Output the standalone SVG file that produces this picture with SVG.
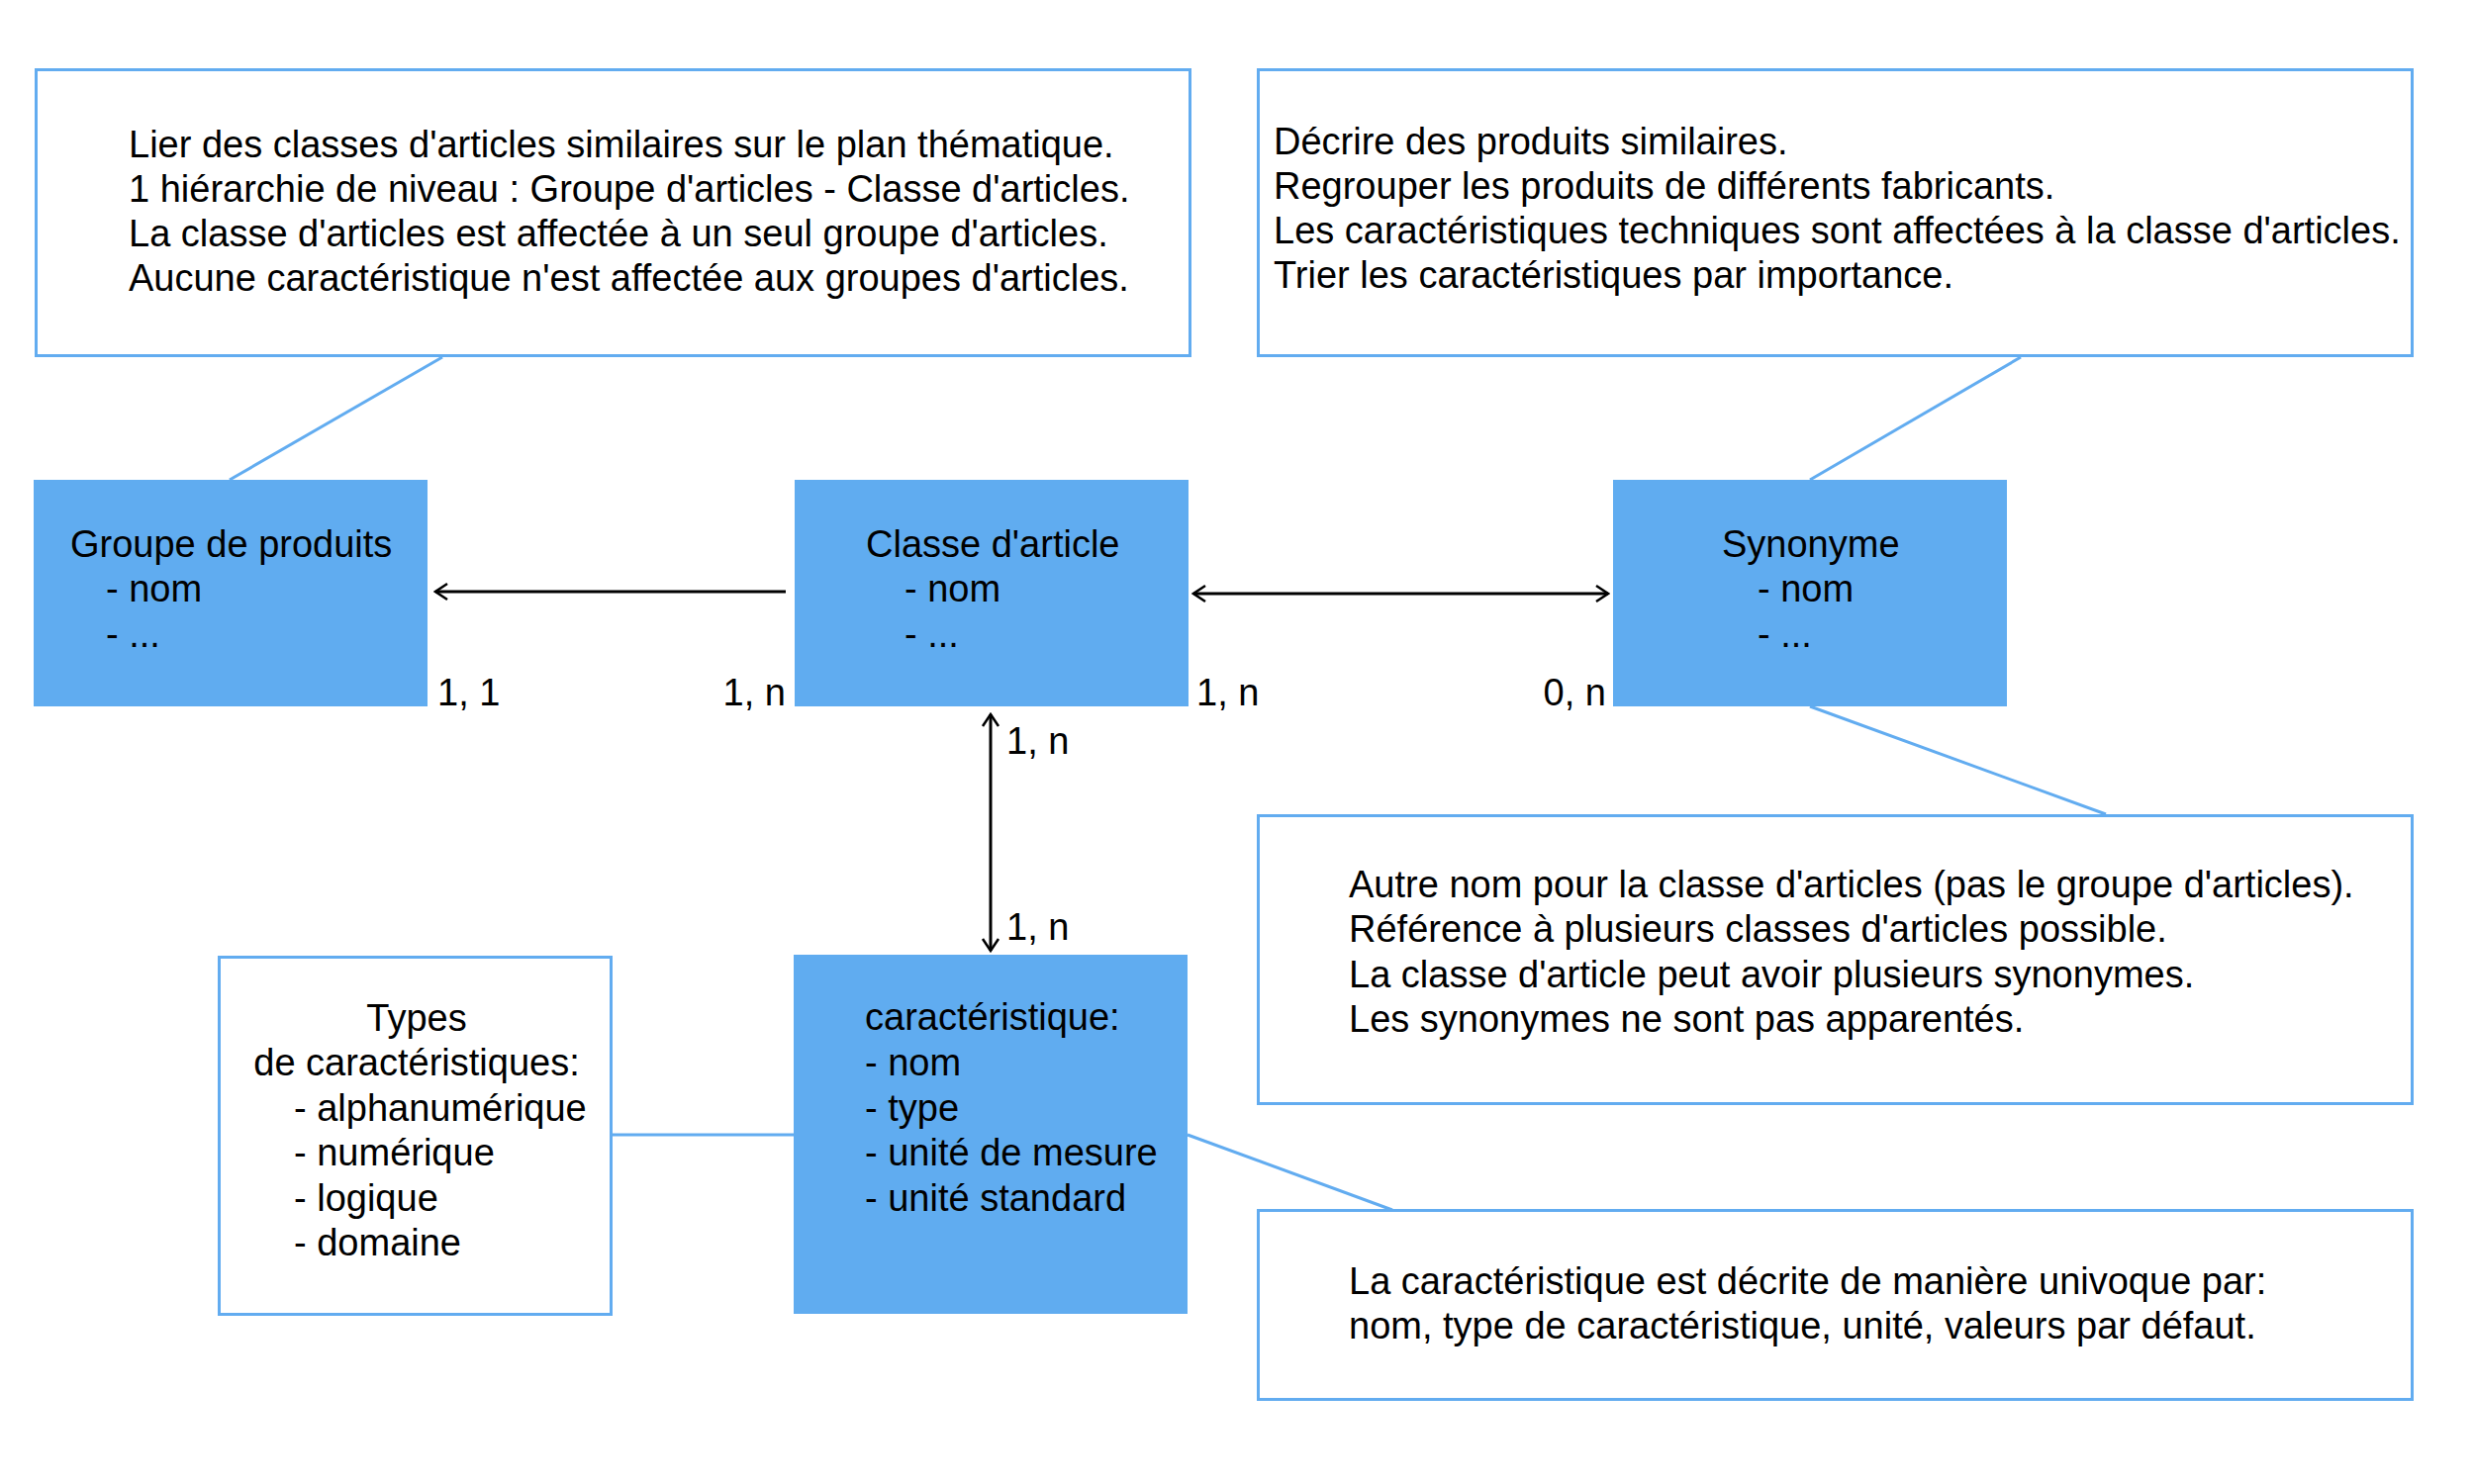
<svg xmlns="http://www.w3.org/2000/svg" width="2500" height="1500" viewBox="0 0 2500 1500">
<style>
  text { font-family: "Liberation Sans", Arial, sans-serif; font-size: 38px; fill: #000; }
  .note { fill: #ffffff; stroke: #62acf0; stroke-width: 3; }
  .ent { fill: #60acf0; stroke: none; }
  .link { stroke: #62acf0; stroke-width: 3; fill: none; }
  .rel { stroke: #000; stroke-width: 3; fill: none; }
</style>
<defs>
  <marker id="arr" markerUnits="userSpaceOnUse" viewBox="-14 -10 16 20" refX="0" refY="0" markerWidth="16" markerHeight="20" orient="auto-start-reverse">
    <path d="M-12,-8 L0,0 L-12,8" fill="none" stroke="#000" stroke-width="2.5"/>
  </marker>
</defs>
<rect width="2500" height="1500" fill="#ffffff"/>

<g id="connectors">
  <line class="link" x1="447" y1="361" x2="232" y2="485"/>
  <line class="link" x1="2042" y1="361" x2="1829" y2="485"/>
  <line class="link" x1="1829" y1="714" x2="2128" y2="823"/>
  <line class="link" x1="1200" y1="1147" x2="1407" y2="1223"/>
  <line class="link" x1="618" y1="1147" x2="802" y2="1147"/>
  <line class="rel" x1="794" y1="598" x2="440" y2="598" marker-end="url(#arr)"/>
  <line class="rel" x1="1206" y1="600" x2="1625" y2="600" marker-start="url(#arr)" marker-end="url(#arr)"/>
  <line class="rel" x1="1001" y1="722" x2="1001" y2="961" marker-start="url(#arr)" marker-end="url(#arr)"/>
  <text x="442" y="713">1, 1</text>
  <text x="794" y="713" text-anchor="end">1, n</text>
  <text x="1209" y="713">1, n</text>
  <text x="1623" y="713" text-anchor="end">0, n</text>
  <text x="1017" y="762">1, n</text>
  <text x="1017" y="950">1, n</text>
</g>

<g id="note-groupe">
  <rect class="note" x="36.5" y="70.5" width="1166" height="289"/>
  <text x="130" y="159">Lier des classes d'articles similaires sur le plan thématique.</text>
  <text x="130" y="204">1 hiérarchie de niveau : Groupe d'articles - Classe d'articles.</text>
  <text x="130" y="249">La classe d'articles est affectée à un seul groupe d'articles.</text>
  <text x="130" y="294">Aucune caractéristique n'est affectée aux groupes d'articles.</text>
</g>

<g id="note-classe">
  <rect class="note" x="1271.5" y="70.5" width="1166" height="289"/>
  <text x="1287" y="156">Décrire des produits similaires.</text>
  <text x="1287" y="201">Regrouper les produits de différents fabricants.</text>
  <text x="1287" y="246">Les caractéristiques techniques sont affectées à la classe d'articles.</text>
  <text x="1287" y="291">Trier les caractéristiques par importance.</text>
</g>

<g id="groupe-produits">
  <rect class="ent" x="34" y="485" width="398" height="229"/>
  <text x="71" y="563">Groupe de produits</text>
  <text x="107" y="608">- nom</text>
  <text x="107" y="654">- ...</text>
</g>

<g id="classe-article">
  <rect class="ent" x="803" y="485" width="398" height="229"/>
  <text x="875" y="563">Classe d'article</text>
  <text x="914" y="608">- nom</text>
  <text x="914" y="654">- ...</text>
</g>

<g id="synonyme">
  <rect class="ent" x="1630" y="485" width="398" height="229"/>
  <text x="1740" y="563">Synonyme</text>
  <text x="1776" y="608">- nom</text>
  <text x="1776" y="654">- ...</text>
</g>

<g id="note-synonyme">
  <rect class="note" x="1271.5" y="824.5" width="1166" height="291"/>
  <text x="1363" y="907">Autre nom pour la classe d'articles (pas le groupe d'articles).</text>
  <text x="1363" y="952">Référence à plusieurs classes d'articles possible.</text>
  <text x="1363" y="998">La classe d'article peut avoir plusieurs synonymes.</text>
  <text x="1363" y="1043">Les synonymes ne sont pas apparentés.</text>
</g>

<g id="caracteristique">
  <rect class="ent" x="802" y="965" width="398" height="363"/>
  <text x="874" y="1041">caractéristique:</text>
  <text x="874" y="1087">- nom</text>
  <text x="874" y="1133">- type</text>
  <text x="874" y="1178">- unité de mesure</text>
  <text x="874" y="1224">- unité standard</text>
</g>

<g id="types">
  <rect class="note" x="221.5" y="967.5" width="396" height="361"/>
  <text x="421" y="1042" text-anchor="middle">Types</text>
  <text x="421" y="1087" text-anchor="middle">de caractéristiques:</text>
  <text x="297" y="1133">- alphanumérique</text>
  <text x="297" y="1178">- numérique</text>
  <text x="297" y="1224">- logique</text>
  <text x="297" y="1269">- domaine</text>
</g>

<g id="note-caracteristique">
  <rect class="note" x="1271.5" y="1223.5" width="1166" height="191"/>
  <text x="1363" y="1308">La caractéristique est décrite de manière univoque par:</text>
  <text x="1363" y="1353">nom, type de caractéristique, unité, valeurs par défaut.</text>
</g>
</svg>
